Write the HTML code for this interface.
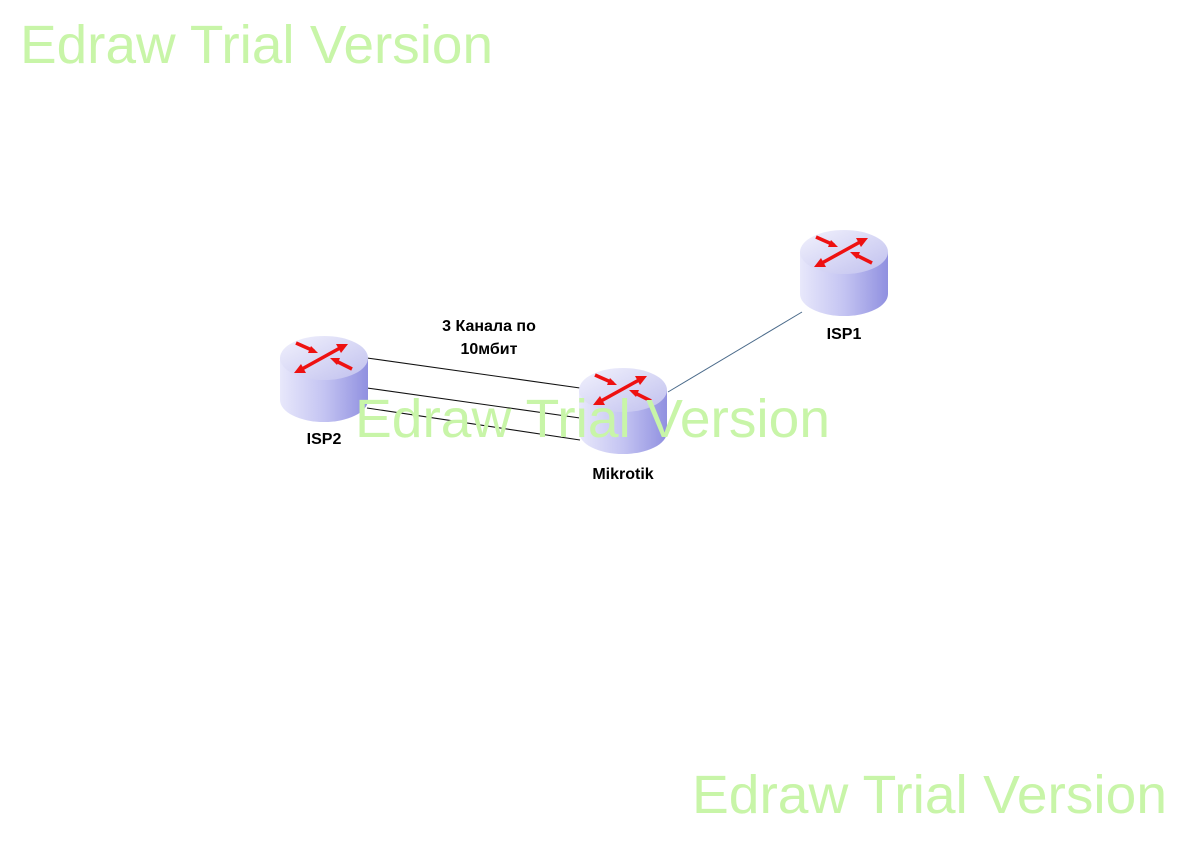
<!DOCTYPE html>
<html><head><meta charset="utf-8"><style>
body{margin:0;background:#fff;width:1188px;height:840px;overflow:hidden;font-family:"Liberation Sans",sans-serif}
</style></head><body>
<svg width="1188" height="840" viewBox="0 0 1188 840" xmlns="http://www.w3.org/2000/svg">
<defs>
<linearGradient id="side" x1="0" x2="1" y1="0" y2="0">
<stop offset="0" stop-color="#e8e8fb"/><stop offset="0.5" stop-color="#c4c4f2"/><stop offset="1" stop-color="#9090e0"/>
</linearGradient>
<linearGradient id="top" x1="0" x2="1" y1="0" y2="1">
<stop offset="0" stop-color="#f2f2fd"/><stop offset="1" stop-color="#c0c0ee"/>
</linearGradient>
<g id="r">
<path d="M0,22 L0,64 A44,22 0 0 0 88,64 L88,22 Z" fill="url(#side)"/>
<ellipse cx="44" cy="22" rx="44" ry="22" fill="url(#top)"/>
<g stroke="#ee1111" stroke-width="3.5" fill="#ee1111">
<line x1="16" y1="7" x2="34" y2="15"/><polygon points="38,17 28,17 31,10" stroke="none"/>
<line x1="22" y1="33" x2="60" y2="12"/><polygon points="68,8 56,8 61,17" stroke="none"/><polygon points="14,37 26,37 21,28" stroke="none"/>
<line x1="72" y1="33" x2="56" y2="25"/><polygon points="50,22 60,22 57,29" stroke="none"/>
</g>
</g>
</defs>
<g stroke="#111" stroke-width="1.1">
<line x1="367" y1="358" x2="580" y2="388"/>
<line x1="367" y1="388" x2="580" y2="418"/>
<line x1="367" y1="408" x2="580" y2="440"/>
</g>
<line x1="668" y1="392" x2="802" y2="312" stroke="#4a6a8a" stroke-width="1"/>
<use href="#r" x="280" y="336"/>
<use href="#r" x="579" y="368"/>
<use href="#r" x="800" y="230"/>
<g font-weight="bold" font-size="16" fill="#000" text-anchor="middle">
<text x="324" y="444">ISP2</text>
<text x="623" y="479">Mikrotik</text>
<text x="844" y="339">ISP1</text>
<text x="489" y="331">3 Канала по</text>
<text x="489" y="354">10мбит</text>
</g>
<g font-size="54" fill="#c8f5a8">
<text x="20" y="63" textLength="473" lengthAdjust="spacingAndGlyphs">Edraw Trial Version</text>
<text x="355" y="437" textLength="475" lengthAdjust="spacingAndGlyphs">Edraw Trial Version</text>
<text x="692" y="813" textLength="475" lengthAdjust="spacingAndGlyphs">Edraw Trial Version</text>
</g>
</svg>
</body></html>
